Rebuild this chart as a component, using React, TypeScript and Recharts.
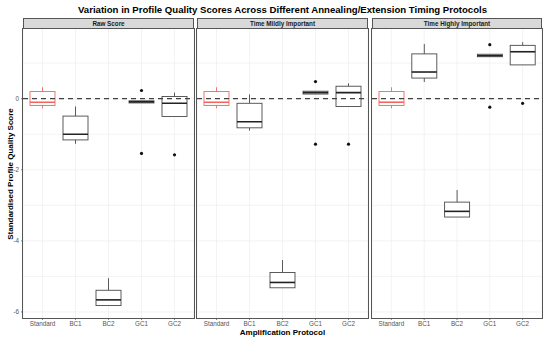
import { ComposedChart, Bar, Scatter, XAxis, YAxis, CartesianGrid, ReferenceLine } from "recharts";

const categories = ["Standard", "BC1", "BC2", "GC1", "GC2"];
const panels = ["Raw Score", "Time Mildly Important", "Time Highly Important"];
const yTicks = [-6, -4, -2, 0];
const gridValues = [-6, -5, -4, -3, -2, -1, 0, 1];

// one row per panel, one value per category
const whiskerLow = [
  [-0.27, -1.27, -5.82, -0.12, -0.5],
  [-0.27, -0.9, -5.32, 0.13, -0.22],
  [-0.27, 0.47, -3.33, 1.18, 0.95],
];
const lowerQuartile = [
  [-0.19, -1.16, -5.82, -0.12, -0.5],
  [-0.19, -0.82, -5.32, 0.13, -0.22],
  [-0.19, 0.58, -3.33, 1.18, 0.95],
];
const medians = [
  [-0.1, -1.0, -5.66, -0.09, -0.13],
  [-0.1, -0.65, -5.17, 0.17, 0.17],
  [-0.1, 0.75, -3.17, 1.21, 1.32],
];
const upperQuartile = [
  [0.2, -0.49, -5.39, -0.06, 0.06],
  [0.2, -0.13, -4.89, 0.21, 0.35],
  [0.2, 1.26, -2.91, 1.25, 1.5],
];
const whiskerHigh = [
  [0.32, -0.22, -5.05, -0.06, 0.17],
  [0.32, 0.12, -4.54, 0.21, 0.43],
  [0.32, 1.54, -2.57, 1.25, 1.59],
];
const outlierA = [
  [null, null, null, 0.23, -1.58],
  [null, null, null, 0.48, -1.28],
  [null, null, null, 1.52, -0.13],
];
const outlierB = [
  [null, null, null, -1.54, null],
  [null, null, null, -1.28, null],
  [null, null, null, -0.24, null],
];

const FONT = "'Liberation Sans', Arial, sans-serif";
const TOP = 29;
const BOTTOM = 318;
const panelBoxes = [
  { left: 23, width: 171 },
  { left: 197, width: 171 },
  { left: 372, width: 170 },
];

const BoxShape = (props: any) => {
  const { x, y, width, height, payload } = props;
  const top = height >= 0 ? y : y + height;
  const h = Math.abs(height);
  const span = payload.hi - payload.lo;
  const k = span ? h / span : 0;
  const py = (v: number) => top + (payload.hi - v) * k;
  const cx = x + width / 2;
  const std = payload.name === "Standard";
  const color = std ? "#F4645A" : "#4a4a4a";
  const medColor = std ? "#F4645A" : "#222222";
  return (
    <g>
      <line x1={cx} x2={cx} y1={py(payload.hi)} y2={py(payload.q3)} stroke={color} strokeWidth={0.9} />
      <line x1={cx} x2={cx} y1={py(payload.q1)} y2={py(payload.lo)} stroke={color} strokeWidth={0.9} />
      <rect
        x={x}
        y={py(payload.q3)}
        width={width}
        height={Math.max(py(payload.q1) - py(payload.q3), 0.5)}
        fill="#ffffff"
        stroke={color}
        strokeWidth={0.9}
      />
      <line x1={x} x2={x + width} y1={py(payload.median)} y2={py(payload.median)} stroke={medColor} strokeWidth={1.6} />
    </g>
  );
};

const dotShape = (key: string) => (props: any) => {
  if (props.payload[key] == null) return <g />;
  return <circle cx={props.cx} cy={props.cy} r={1.6} fill="#111111" />;
};

function Panel({ index }: { index: number }) {
  const rows = categories.map((name, i) => ({
    name,
    lo: whiskerLow[index][i],
    q1: lowerQuartile[index][i],
    median: medians[index][i],
    q3: upperQuartile[index][i],
    hi: whiskerHigh[index][i],
    outA: outlierA[index][i],
    outB: outlierB[index][i],
  }));
  const box = panelBoxes[index];
  const first = index === 0;
  const yWidth = first ? box.left : 0;
  return (
    <div style={{ position: "absolute", left: first ? 0 : box.left, top: 0 }}>
      <ComposedChart
        width={box.width + yWidth}
        height={343}
        data={rows}
        margin={{ top: TOP, right: 0, bottom: 0, left: 0 }}
        barSize={25}
      >
        <CartesianGrid stroke="#ebebeb" strokeWidth={0.6} horizontalValues={gridValues} />
        <XAxis
          dataKey="name"
          height={343 - BOTTOM}
          padding={{ left: 3, right: 3 }}
          axisLine={false}
          tickLine={{ stroke: "#333333", strokeWidth: 0.6 }}
          tickSize={2}
          tick={{ fontSize: 6.3, fill: "#555555", fontFamily: FONT }}
          interval={0}
        />
        <YAxis
          hide={!first}
          width={yWidth}
          type="number"
          domain={[-6.17, 1.96]}
          allowDataOverflow
          ticks={yTicks}
          axisLine={false}
          tickLine={{ stroke: "#333333", strokeWidth: 0.6 }}
          tickSize={2}
          tick={{ fontSize: 6.3, fill: "#555555", fontFamily: FONT }}
        />
        <Bar dataKey={(d: any) => [d.lo, d.hi]} shape={BoxShape} isAnimationActive={false} />
        <Scatter dataKey="outA" shape={dotShape("outA")} isAnimationActive={false} />
        <Scatter dataKey="outB" shape={dotShape("outB")} isAnimationActive={false} />
        <ReferenceLine y={0} stroke="#404040" strokeWidth={1.1} strokeDasharray="5 4" />
      </ComposedChart>
    </div>
  );
}

export default function App() {
  return (
    <div
      style={{
        position: "absolute",
        left: 0,
        top: 0,
        width: 550,
        height: 343,
        background: "#ffffff",
        fontFamily: FONT,
        overflow: "hidden",
      }}
    >
      <div
        style={{
          position: "absolute",
          left: 23,
          width: 519,
          top: 4,
          textAlign: "center",
          fontSize: 9.6,
          fontWeight: "bold",
          color: "#000",
        }}
      >
        Variation in Profile Quality Scores Across Different Annealing/Extension Timing Protocols
      </div>
      {panels.map((title, i) => (
        <div key={title}>
          <Panel index={i} />
          <div
            style={{
              position: "absolute",
              left: panelBoxes[i].left,
              top: 18,
              width: panelBoxes[i].width,
              height: TOP - 18,
              boxSizing: "border-box",
              background: "#d9d9d9",
              border: "1px solid #555555",
              fontSize: 6.3,
              fontWeight: "bold",
              textAlign: "center",
              lineHeight: `${TOP - 20}px`,
              color: "#1a1a1a",
            }}
          >
            {title}
          </div>
          <div
            style={{
              position: "absolute",
              left: panelBoxes[i].left - 1,
              top: TOP - 1,
              width: panelBoxes[i].width + 2,
              height: BOTTOM - TOP + 2,
              boxSizing: "border-box",
              border: "1.5px solid #555555",
              pointerEvents: "none",
            }}
          />
        </div>
      ))}
      <div
        style={{
          position: "absolute",
          left: 23,
          width: 519,
          top: 328,
          textAlign: "center",
          fontSize: 8,
          fontWeight: "bold",
        }}
      >
        Amplification Protocol
      </div>
      <div
        style={{
          position: "absolute",
          left: 10,
          top: (TOP + BOTTOM) / 2,
          transform: "translate(-50%, -50%) rotate(-90deg)",
          whiteSpace: "nowrap",
          fontSize: 8,
          fontWeight: "bold",
        }}
      >
        Standardised Profile Quality Score
      </div>
    </div>
  );
}
